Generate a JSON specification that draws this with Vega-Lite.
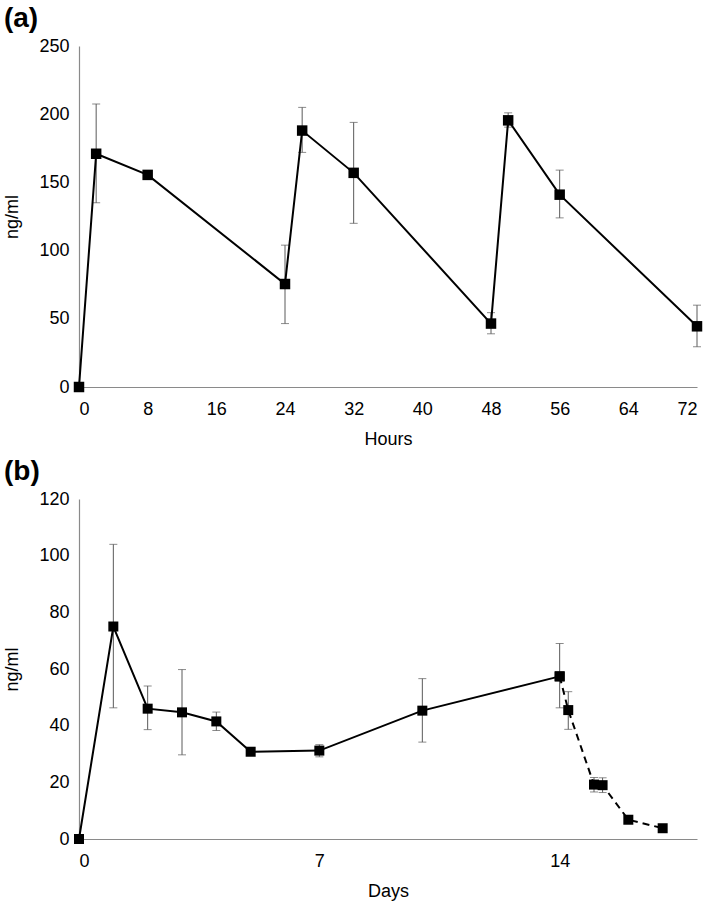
{
  "$schema": "https://vega.github.io/schema/vega-lite/v6.json",
  "padding": {"left": 3, "top": 5, "right": 5, "bottom": 2},
  "spacing": 10,
  "config": {
    "font": "Liberation Sans",
    "view": {"stroke": null},
    "axis": {"grid": false, "ticks": false, "domainColor": "#8a8a8a", "domainWidth": 1.2, "labelColor": "#000", "labelFontSize": 18, "titleFontSize": 18, "titleFontWeight": "normal", "titleColor": "#000", "labelPadding": 10},
    "axisX": {"labelPadding": 13, "titlePadding": 12},
    "axisY": {"titlePadding": 17},
    "title": {"fontSize": 28, "fontWeight": "bold", "anchor": "start", "frame": "bounds", "color": "#000", "offset": 4}
  },
  "datasets": {
    "a": [
      {"t": 0, "v": 0},
      {"t": 2, "v": 171, "lo": 135, "hi": 207.5},
      {"t": 8, "v": 155.5},
      {"t": 24, "v": 75.5, "lo": 46.5, "hi": 104},
      {"t": 26, "v": 188, "lo": 172, "hi": 205},
      {"t": 32, "v": 157, "lo": 120, "hi": 194},
      {"t": 48, "v": 46.5, "lo": 39, "hi": 54.5},
      {"t": 50, "v": 195.5, "lo": 190.5, "hi": 201},
      {"t": 56, "v": 141, "lo": 124, "hi": 159},
      {"t": 72, "v": 44.5, "lo": 29.5, "hi": 60}
    ],
    "b": [
      {"s": "solid", "d": 0, "v": 0},
      {"s": "solid", "d": 1, "v": 75, "lo": 46.3, "hi": 104},
      {"s": "solid", "d": 2, "v": 46, "lo": 38.6, "hi": 54},
      {"s": "solid", "d": 3, "v": 44.7, "lo": 29.7, "hi": 59.8},
      {"s": "solid", "d": 4, "v": 41.5, "lo": 38.3, "hi": 44.8},
      {"s": "solid", "d": 5, "v": 30.8},
      {"s": "solid", "d": 7, "v": 31.2, "lo": 29, "hi": 33.3},
      {"s": "solid", "d": 10, "v": 45.3, "lo": 34.2, "hi": 56.6},
      {"s": "solid", "d": 14, "v": 57.4, "lo": 46.3, "hi": 69},
      {"s": "dashed", "d": 14, "v": 57.4},
      {"s": "dashed", "d": 14.25, "v": 45.5, "lo": 38.7, "hi": 52},
      {"s": "dashed", "d": 15, "v": 19.2, "lo": 16.6, "hi": 21.7},
      {"s": "dashed", "d": 15.25, "v": 19, "lo": 16.4, "hi": 21.6},
      {"s": "dashed", "d": 16, "v": 6.8},
      {"s": "dashed", "d": 17, "v": 3.8}
    ]
  },
  "vconcat": [
    {
      "title": "(a)",
      "width": 618,
      "height": 341,
      "data": {"name": "a"},
      "encoding": {
        "x": {"field": "t", "type": "quantitative", "title": "Hours", "scale": {"domain": [0, 72], "nice": false}, "axis": {"values": [0, 8, 16, 24, 32, 40, 48, 56, 64, 72]}},
        "y": {"field": "v", "type": "quantitative", "title": "ng/ml", "scale": {"domain": [0, 250], "nice": false}, "axis": {"values": [0, 50, 100, 150, 200, 250]}}
      },
      "layer": [
        {"transform": [{"filter": "isValid(datum.lo)"}], "mark": {"type": "rule", "color": "#5a5a5a", "strokeWidth": 1}, "encoding": {"y": {"field": "lo", "type": "quantitative"}, "y2": {"field": "hi"}}},
        {"transform": [{"filter": "isValid(datum.lo)"}], "mark": {"type": "tick", "orient": "horizontal", "color": "#5a5a5a", "thickness": 1, "size": 8}, "encoding": {"y": {"field": "lo", "type": "quantitative"}}},
        {"transform": [{"filter": "isValid(datum.lo)"}], "mark": {"type": "tick", "orient": "horizontal", "color": "#5a5a5a", "thickness": 1, "size": 8}, "encoding": {"y": {"field": "hi", "type": "quantitative"}}},
        {"mark": {"type": "line", "color": "#000", "strokeWidth": 2}, "encoding": {}},
        {"mark": {"type": "point", "shape": "square", "filled": true, "color": "#000", "opacity": 1, "size": 110}, "encoding": {}}
      ]
    },
    {
      "title": "(b)",
      "width": 618,
      "height": 340,
      "data": {"name": "b"},
      "encoding": {
        "x": {"field": "d", "type": "quantitative", "title": "Days", "scale": {"domain": [0, 18], "nice": false}, "axis": {"values": [0, 7, 14]}},
        "y": {"field": "v", "type": "quantitative", "title": "ng/ml", "scale": {"domain": [0, 120], "nice": false}, "axis": {"values": [0, 20, 40, 60, 80, 100, 120]}}
      },
      "layer": [
        {"transform": [{"filter": "isValid(datum.lo)"}], "mark": {"type": "rule", "color": "#5a5a5a", "strokeWidth": 1}, "encoding": {"y": {"field": "lo", "type": "quantitative"}, "y2": {"field": "hi"}}},
        {"transform": [{"filter": "isValid(datum.lo)"}], "mark": {"type": "tick", "orient": "horizontal", "color": "#5a5a5a", "thickness": 1, "size": 8}, "encoding": {"y": {"field": "lo", "type": "quantitative"}}},
        {"transform": [{"filter": "isValid(datum.lo)"}], "mark": {"type": "tick", "orient": "horizontal", "color": "#5a5a5a", "thickness": 1, "size": 8}, "encoding": {"y": {"field": "hi", "type": "quantitative"}}},
        {"transform": [{"filter": "datum.s == 'solid'"}], "mark": {"type": "line", "color": "#000", "strokeWidth": 2}, "encoding": {}},
        {"transform": [{"filter": "datum.s == 'dashed'"}], "mark": {"type": "line", "color": "#000", "strokeWidth": 2, "strokeDash": [7, 5]}, "encoding": {}},
        {"mark": {"type": "point", "shape": "square", "filled": true, "color": "#000", "opacity": 1, "size": 100}, "encoding": {}}
      ]
    }
  ]
}
